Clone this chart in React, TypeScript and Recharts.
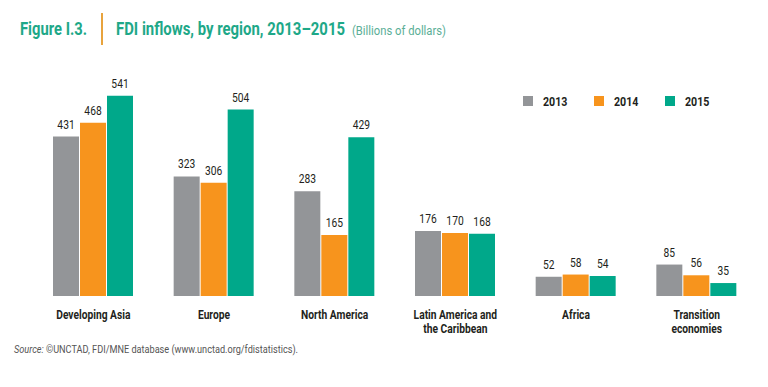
import React from 'react';
import { BarChart, Bar, XAxis, YAxis, LabelList } from 'recharts';

const regions = [
  'Developing Asia',
  'Europe',
  'North America',
  'Latin America and\nthe Caribbean',
  'Africa',
  'Transition\neconomies',
];
const inflows2013 = [431, 323, 283, 176, 52, 85];
const inflows2014 = [468, 306, 165, 170, 58, 56];
const inflows2015 = [541, 504, 429, 168, 54, 35];
const years = ['2013', '2014', '2015'];

const COLORS: Record<string, string> = {
  '2013': '#939598',
  '2014': '#f7941d',
  '2015': '#00a88a',
};
const FONT = 'Roboto, sans-serif';
const INK = '#231f20';
const TITLE_GREEN = '#1ea888';
// squeeze Roboto towards the condensed face used in the original
const SQUEEZE = 0.82;

const chartData = regions.map((name, i) => ({
  name,
  '2013': inflows2013[i],
  '2014': inflows2014[i],
  '2015': inflows2015[i],
}));

// condensed text: horizontally scaled group, optional exact width
const Narrow = ({ x, y, width, children, ...rest }: any) => (
  <g transform={`translate(${x},${y}) scale(${SQUEEZE},1)`}>
    <text
      x={0}
      y={0}
      fontFamily={FONT}
      {...rest}
      {...(width ? { textLength: width / SQUEEZE, lengthAdjust: 'spacingAndGlyphs' } : {})}
    >
      {children}
    </text>
  </g>
);

// multi-line category labels
const RegionTick = (props: any) => {
  const { x, y, payload } = props;
  const lines = String(payload.value).split('\n');
  return (
    <g transform={`translate(${x},${y}) scale(${SQUEEZE},1)`}>
      <text x={0} y={0} textAnchor="middle" fontFamily={FONT} fontSize={12.5} fontWeight={700} fill={INK}>
        {lines.map((line, i) => (
          <tspan key={i} x={0} dy={i === 0 ? 15 : 14}>
            {line}
          </tspan>
        ))}
      </text>
    </g>
  );
};

const ValueLabel = (props: any) => {
  const { x, y, width, value } = props;
  return (
    <Narrow x={x + width / 2} y={y - 8} textAnchor="middle" fontSize={12.5} fill={INK}>
      {value}
    </Narrow>
  );
};

export default function App() {
  return (
    <div style={{ position: 'absolute', left: 0, top: 0, width: 768, height: 387, background: '#fff' }}>
      <BarChart
        width={768}
        height={387}
        data={chartData}
        margin={{ top: 74, right: 11, left: 33, bottom: 51 }}
        barGap={1}
      >
        <XAxis dataKey="name" axisLine={false} tickLine={false} interval={0} height={40} tick={<RegionTick />} />
        <YAxis hide domain={[0, 600]} />
        {years.map((y) => (
          <Bar key={y} dataKey={y} fill={COLORS[y]} barSize={26} isAnimationActive={false}>
            <LabelList dataKey={y} content={<ValueLabel />} />
          </Bar>
        ))}
      </BarChart>

      <svg width={768} height={387} style={{ position: 'absolute', left: 0, top: 0, pointerEvents: 'none' }}>
        <Narrow x={20} y={35} width={67} fontWeight={700} fontSize={18} fill={TITLE_GREEN}>
          Figure I.3.
        </Narrow>
        <rect x={101} y={13} width={2} height={32} fill="#e8a33d" />
        <Narrow x={116} y={35} width={229} fontWeight={700} fontSize={18} fill={TITLE_GREEN}>
          FDI inflows, by region, 2013–2015
        </Narrow>
        <Narrow x={352} y={35} width={94} fontSize={12.5} fill="#5aae96">
          (Billions of dollars)
        </Narrow>

        {years.map((y, i) => (
          <g key={y} transform={`translate(${523 + i * 71},96)`}>
            <rect x={0} y={0} width={10} height={10} fill={COLORS[y]} />
            <Narrow x={20} y={10} fontSize={13} fontWeight={700} fill={INK}>
              {y}
            </Narrow>
          </g>
        ))}

        <Narrow x={14} y={353} width={284} fontSize={10} fill="#555">
          <tspan fontStyle="italic">Source:</tspan> ©UNCTAD, FDI/MNE database (www.unctad.org/fdistatistics).
        </Narrow>
      </svg>
    </div>
  );
}
